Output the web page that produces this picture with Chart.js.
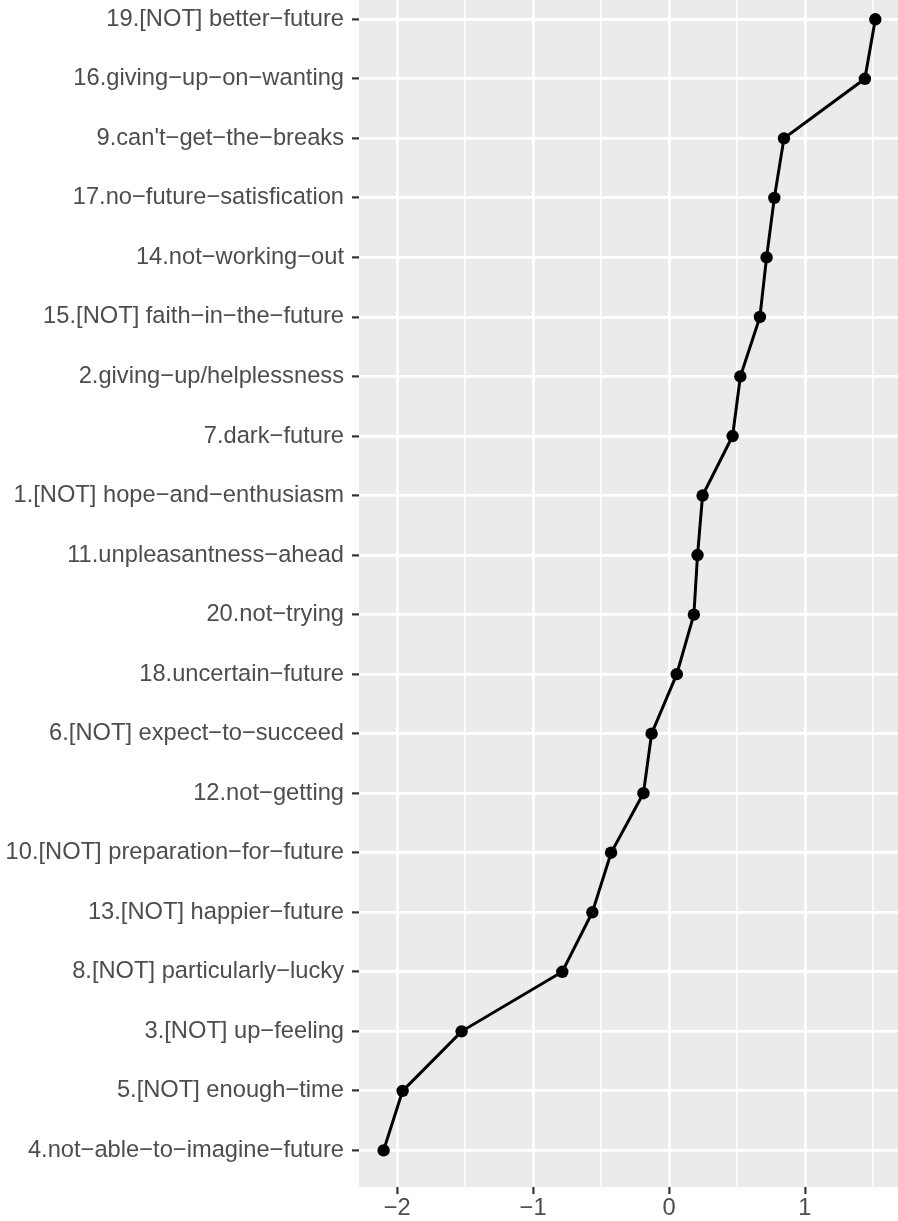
<!DOCTYPE html>
<html><head><meta charset="utf-8">
<script src="https://cdn.jsdelivr.net/npm/chart.js@4"></script>
<style>html,body{margin:0;padding:0;background:#fff;} #wrap{width:898px;height:1221px;position:relative;}</style>
</head><body><div id="wrap"><canvas id="c"></canvas></div>
<script>
const categories = [
  "19.[NOT] better−future",
  "16.giving−up−on−wanting",
  "9.can't−get−the−breaks",
  "17.no−future−satisfication",
  "14.not−working−out",
  "15.[NOT] faith−in−the−future",
  "2.giving−up/helplessness",
  "7.dark−future",
  "1.[NOT] hope−and−enthusiasm",
  "11.unpleasantness−ahead",
  "20.not−trying",
  "18.uncertain−future",
  "6.[NOT] expect−to−succeed",
  "12.not−getting",
  "10.[NOT] preparation−for−future",
  "13.[NOT] happier−future",
  "8.[NOT] particularly−lucky",
  "3.[NOT] up−feeling",
  "5.[NOT] enough−time",
  "4.not−able−to−imagine−future"
];
const values = [1.518, 1.441, 0.846, 0.775, 0.718, 0.669, 0.525, 0.468, 0.247, 0.210, 0.183, 0.057, -0.128, -0.188, -0.426, -0.564, -0.785, -1.526, -1.960, -2.100];
const xMajorTicks = [-2, -1, 0, 1];
const xMajorLabels = ["−2", "−1", "0", "1"];
const xMinorTicks = [-1.5, -0.5, 0.5, 1.5];

const isMajor = v => xMajorTicks.indexOf(v) !== -1;

const bgPlugin = {
  id: 'bg',
  beforeDraw(chart) {
    const {ctx, chartArea: a} = chart;
    ctx.save();
    ctx.fillStyle = '#ffffff';
    ctx.fillRect(0, 0, chart.width, chart.height);
    ctx.fillStyle = '#EBEBEB';
    ctx.fillRect(a.left, a.top, a.right - a.left, a.bottom - a.top);
    ctx.restore();
  }
};

const zeroPad = axis => {
  axis.paddingTop = 0; axis.paddingBottom = 0;
  axis.paddingLeft = 0; axis.paddingRight = 0;
};

const FONT = {family: "'Liberation Sans', Arial, Helvetica, sans-serif", size: 23.7};

new Chart(document.getElementById('c'), {
  type: 'scatter',
  data: {
    datasets: [{
      data: categories.map((c, i) => ({x: values[i], y: i})),
      showLine: true,
      borderColor: '#000000',
      borderWidth: 3,
      pointRadius: 6.2,
      pointBackgroundColor: '#000000',
      pointBorderWidth: 0,
      pointHoverRadius: 6.2,
      clip: false
    }]
  },
  options: {
    responsive: true,
    maintainAspectRatio: false,
    animation: false,
    devicePixelRatio: 1,
    layout: {padding: 0, autoPadding: false},
    plugins: {legend: {display: false}, tooltip: {enabled: false}},
    scales: {
      x: {
        type: 'linear',
        min: -2.281,
        max: 1.685,
        afterBuildTicks: axis => {
          axis.ticks = xMajorTicks.concat(xMinorTicks).sort((a, b) => a - b).map(v => ({value: v}));
        },
        afterFit: axis => { axis.height = 34; zeroPad(axis); },
        border: {display: false},
        grid: {
          color: '#ffffff',
          lineWidth: ctx => (ctx.tick && isMajor(ctx.tick.value)) ? 2.8 : 1.5,
          drawTicks: true,
          tickLength: 7,
          tickWidth: 2.2,
          tickColor: ctx => (ctx.tick && isMajor(ctx.tick.value)) ? '#333333' : 'rgba(0,0,0,0)'
        },
        ticks: {
          autoSkip: false,
          maxRotation: 0,
          minRotation: 0,
          padding: 0,
          color: '#4D4D4D',
          font: FONT,
          callback: v => { const k = xMajorTicks.indexOf(v); return k === -1 ? '' : xMajorLabels[k]; }
        }
      },
      y: {
        type: 'linear',
        reverse: true,
        min: -0.324,
        max: 19.615,
        afterBuildTicks: axis => {
          axis.ticks = categories.map((c, i) => ({value: i}));
        },
        afterFit: axis => { axis.width = 359; zeroPad(axis); },
        border: {display: false},
        grid: {
          color: '#ffffff',
          lineWidth: 2.8,
          drawTicks: true,
          tickLength: 7,
          tickWidth: 2.2,
          tickColor: '#333333'
        },
        ticks: {
          autoSkip: false,
          padding: 8,
          color: '#4D4D4D',
          font: FONT,
          callback: v => categories[v]
        }
      }
    }
  },
  plugins: [bgPlugin]
});
</script>
</body></html>
